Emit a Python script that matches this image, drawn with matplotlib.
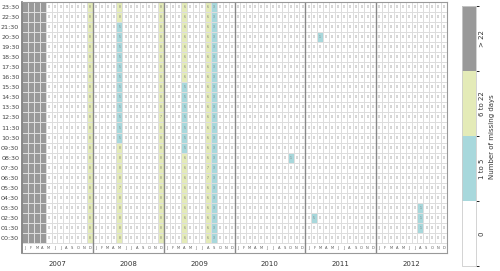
import numpy as np
import matplotlib
matplotlib.use("Agg")
import matplotlib.pyplot as plt
from matplotlib.colors import ListedColormap, BoundaryNorm

# rows (bottom to top) and columns (Jan 2007 .. Dec 2012)
times = ["00:30", "01:30", "02:30", "03:30", "04:30", "05:30", "06:30", "07:30",
         "08:30", "09:30", "10:30", "11:30", "12:30", "13:30", "14:30", "15:30",
         "16:30", "17:30", "18:30", "19:30", "20:30", "21:30", "22:30", "23:30"]
years = [2007, 2008, 2009, 2010, 2011, 2012]
month_letters = ["J", "F", "M", "A", "M", "J", "J", "A", "S", "O", "N", "D"]

# number of missing days, full columns (00:30 -> 23:30)
jan_2007 = [31] * 24
feb_2007 = [28] * 24
mar_2007 = [31] * 24
apr_2007 = [30] * 24
dec_2007 = [8] * 24
may_2008 = [8, 8, 8, 8, 8, 7, 8, 8, 8, 8,
            5, 5, 5, 5, 5, 5, 5, 5, 5, 5, 5, 5,
            8, 8]
dec_2008 = [8, 8, 8, 8, 8, 8, 8, 8, 8, 8, 8, 8, 7, 8, 8, 8, 8, 8, 8, 8, 8, 8, 8, 8]
apr_2009 = [6, 6, 6, 6, 6, 6, 6, 6, 6,
            5, 5, 5, 5, 5, 5, 5,
            6, 6, 6, 6, 6, 6, 6, 6]
aug_2009 = [6, 6, 6, 6, 6, 6, 7, 7, 6, 6, 6, 6, 6, 6, 6, 6, 6, 6, 6, 6, 6, 6, 6, 6]
sep_2009 = [3] * 24

full_columns = {
    (2007, 1): jan_2007, (2007, 2): feb_2007, (2007, 3): mar_2007, (2007, 4): apr_2007,
    (2007, 12): dec_2007, (2008, 5): may_2008, (2008, 12): dec_2008,
    (2009, 4): apr_2009, (2009, 8): aug_2009, (2009, 9): sep_2009,
}
# single cells: (year, month, time, value)
single_cells = [
    (2010, 10, "08:30", 1),
    (2011, 3, "20:30", 1),
    (2011, 2, "02:30", 5),
    (2012, 8, "01:30", 1),
    (2012, 8, "02:30", 1),
    (2012, 8, "03:30", 1),
]

n_cols = len(years) * 12
data = np.zeros((len(times), n_cols))
for (yr, mo), vals in full_columns.items():
    data[:, (yr - years[0]) * 12 + mo - 1] = vals
for yr, mo, t, v in single_cells:
    data[times.index(t), (yr - years[0]) * 12 + mo - 1] = v

colors = ["#ffffff", "#a8d8dc", "#e4ebb8", "#999999"]
cmap = ListedColormap(colors)
norm = BoundaryNorm([-0.5, 0.5, 5.5, 22.5, 40], cmap.N)

fig = plt.figure(figsize=(5, 2.71), dpi=100)
ax = fig.add_axes([0.044, 0.066, 0.85, 0.927])
mesh = ax.pcolormesh(np.arange(n_cols + 1), np.arange(len(times) + 1), data,
                     cmap=cmap, norm=norm, edgecolor="#dddddd", linewidth=0.4)

# values inside cells
for r in range(len(times)):
    for c in range(n_cols):
        v = data[r, c]
        if v <= 22:
            ax.text(c + 0.5, r + 0.5, "%d" % v, ha="center", va="center",
                    fontsize=2.2, color="#777777")

# month letters row under the grid
for c in range(n_cols):
    ax.text(c + 0.5, -0.5, month_letters[c % 12], ha="center", va="center",
            fontsize=2.6, color="#555555")
ax.hlines(0, 0, n_cols, color="#dddddd", lw=0.5)

# year separators
for i in range(1, len(years)):
    ax.vlines(i * 12, -1, len(times), color="#888888", lw=1.0)

# year labels
for i, yr in enumerate(years):
    ax.text(i * 12 + 6, -2.1, str(yr), ha="center", va="center",
            fontsize=5, color="#333333")

ax.set_xlim(0, n_cols)
ax.set_ylim(-1, len(times))
ax.set_xticks([])
ax.set_yticks(np.arange(len(times)) + 0.5)
ax.set_yticklabels(times, fontsize=4.6, color="#444444")
ax.tick_params(axis="y", length=0, pad=2)
for s in ax.spines.values():
    s.set_color("#999999")
    s.set_linewidth(0.8)
ax.spines["left"].set_color("#777777")
ax.spines["left"].set_linewidth(1.2)

# colorbar
cax = fig.add_axes([0.924, 0.018, 0.028, 0.959])
cb = fig.colorbar(mesh, cax=cax, spacing="uniform")
cb.set_ticks([0, 3, 14, 31.25])
cb.set_ticklabels(["0", "1 to 5", "6 to 22", "> 22"])
cb.ax.tick_params(length=0, labelsize=5, labelcolor="#333333", pad=2)
for lbl in cb.ax.get_yticklabels():
    lbl.set_rotation(90)
    lbl.set_va("center")
cb.outline.set_edgecolor("#cccccc")
cb.outline.set_linewidth(0.6)
cb.set_label("Number of missing days", fontsize=5, color="#333333", labelpad=3)

fig.savefig("out.png", dpi=100)
